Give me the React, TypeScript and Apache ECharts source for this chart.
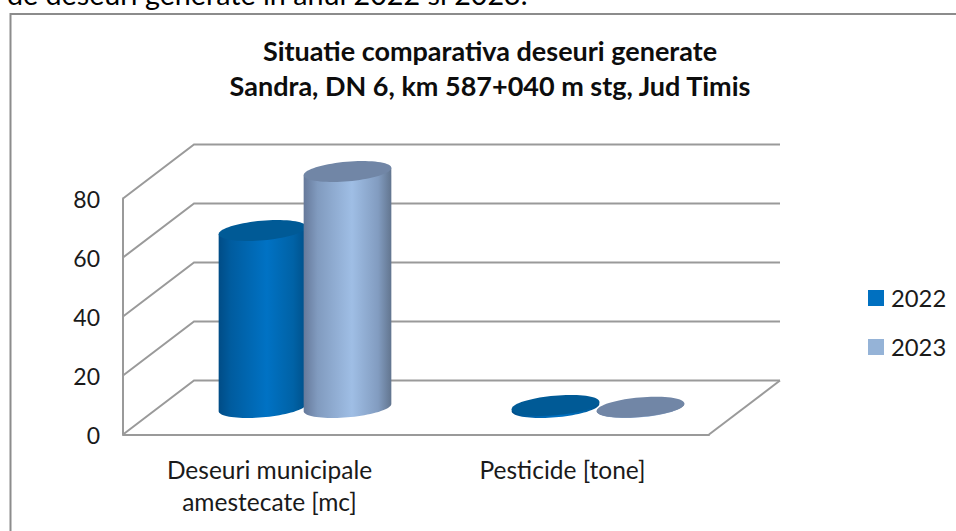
import React, { useEffect, useRef } from "react";
import * as echarts from "echarts";

const categories = ["Deseuri municipale\namestecate [mc]", "Pesticide [tone]"];
const seriesNames = ["2022", "2023"];
const values2022 = [60, 0.7];
const values2023 = [80, 0.1];
const yTicks = [0, 20, 40, 60, 80];
const titleLines = ["Situatie comparativa deseuri generate", "Sandra, DN 6, km 587+040 m stg, Jud Timis"];
const captionAbove = "de deseuri generate in anul 2022 si 2023.";

const FONT = "Lato, Carlito, sans-serif";
const DEPTH_X = 71;
const DEPTH_Y = -54;
const GRID_COLOR = "#9a9a9a";
const RX = 44;
const RY = 9.8;
const TILT = (5 * Math.PI) / 180;
const SLOT_OFFSET = 42.5;

function ellipsePoint(cx: number, cy: number, t: number): number[] {
  const c = Math.cos(t);
  const s = Math.sin(t);
  return [
    cx + RX * c * Math.cos(TILT) + RY * s * Math.sin(TILT),
    cy - RX * c * Math.sin(TILT) + RY * s * Math.cos(TILT),
  ];
}

function grad(stops: [number, string][]) {
  return new echarts.graphic.LinearGradient(
    0, 0, 1, 0,
    stops.map(([offset, color]) => ({ offset, color }))
  );
}

const palettes = [
  {
    top: "#005a96",
    stops: [[0, "#004c86"], [0.14, "#005c9f"], [0.55, "#0072c4"], [0.85, "#0062a6"], [1, "#005089"]] as [number, string][],
  },
  {
    top: "#7186a6",
    stops: [[0, "#66799a"], [0.16, "#819bbf"], [0.55, "#9fbee5"], [0.85, "#829cc0"], [1, "#62758f"]] as [number, string][],
  },
];

function cylinderRender(seriesIndex: number) {
  return (_params: any, api: any) => {
    const cat = api.value(0);
    const val = api.value(1);
    const top = api.coord([cat, val]);
    const base = api.coord([cat, 0]);
    const side = seriesIndex === 0 ? -1 : 1;
    const cx = top[0] + DEPTH_X / 2 + side * SLOT_OFFSET;
    const topY = top[1] + DEPTH_Y / 2;
    const baseY = base[1] + DEPTH_Y / 2;
    const t0 = Math.atan((RY / RX) * Math.tan(TILT));
    const body: number[][] = [];
    body.push(ellipsePoint(cx, topY, t0));
    for (let i = 0; i <= 40; i++) body.push(ellipsePoint(cx, baseY, t0 + (Math.PI * i) / 40));
    body.push(ellipsePoint(cx, topY, t0 + Math.PI));
    const cap: number[][] = [];
    for (let i = 0; i < 72; i++) cap.push(ellipsePoint(cx, topY, (2 * Math.PI * i) / 72));
    // the first series sits above the second in the short category
    const z2 = cat === 1 ? (seriesIndex === 0 ? 5 : 1) : seriesIndex === 0 ? 1 : 5;
    return {
      type: "group",
      children: [
        { type: "polygon", z2, shape: { points: body }, style: { fill: grad(palettes[seriesIndex].stops) } },
        { type: "polygon", z2: z2 + 1, shape: { points: cap }, style: { fill: palettes[seriesIndex].top } },
      ],
    };
  };
}

function wallRender(params: any, api: any) {
  const val = api.value(1);
  const cs = params.coordSys;
  const y = api.coord([0, val])[1];
  const left = cs.x;
  const right = cs.x + cs.width;
  const lineStyle = { stroke: GRID_COLOR, lineWidth: 2, fill: "none" };
  const children: any[] = [
    {
      type: "polyline",
      shape: { points: [[left, y], [left + DEPTH_X, y + DEPTH_Y], [right + DEPTH_X, y + DEPTH_Y]] },
      style: lineStyle,
    },
  ];
  if (val === 0) {
    children.push({
      type: "line",
      shape: { x1: right, y1: y, x2: right + DEPTH_X, y2: y + DEPTH_Y },
      style: lineStyle,
    });
  }
  return { type: "group", children };
}

const App: React.FC = () => {
  const ref = useRef<HTMLDivElement>(null);
  useEffect(() => {
    document.body.style.margin = "0";
    document.body.style.background = "#fff";
    const chart = echarts.init(ref.current!, null, { renderer: "svg" });
    chart.setOption({
      animation: false,
      backgroundColor: "#ffffff",
      title: {
        text: titleLines.join("\n"),
        left: 485,
        top: 28,
        textAlign: "center",
        textStyle: { fontFamily: FONT, fontSize: 27, fontWeight: "bold", color: "#0d0d0d", lineHeight: 35 },
      },
      legend: {
        orient: "vertical",
        left: 863,
        top: 279,
        itemWidth: 16,
        itemHeight: 16,
        itemGap: 21,
        icon: "rect",
        data: [
          { name: seriesNames[0], itemStyle: { color: "#0070c0" } },
          { name: seriesNames[1], itemStyle: { color: "#95b3d7" } },
        ],
        textStyle: { fontFamily: FONT, fontSize: 23.8, color: "#1a1a1a", padding: [0, 0, 0, 2], lineHeight: 28 },
      },
      grid: { left: 123, top: 198.5, width: 586, height: 236 },
      xAxis: {
        type: "category",
        data: categories,
        axisLine: { lineStyle: { color: GRID_COLOR, width: 2 } },
        axisTick: { show: false },
        splitLine: { show: false },
        axisLabel: {
          fontFamily: FONT,
          fontSize: 24.5,
          color: "#1a1a1a",
          lineHeight: 32,
          margin: 19,
          interval: 0,
        },
      },
      yAxis: {
        type: "value",
        min: 0,
        max: 80,
        interval: 20,
        axisLine: { show: true, lineStyle: { color: GRID_COLOR, width: 2 } },
        axisTick: { show: false },
        splitLine: { show: false },
        axisLabel: {
          fontFamily: FONT,
          fontSize: 23,
          color: "#1a1a1a",
          margin: 23,
          customValues: yTicks,
        },
      },
      graphic: [
        {
          type: "text",
          left: 7,
          top: -21,
          silent: true,
          style: { text: captionAbove, fontFamily: FONT, fontSize: 28.7, fill: "#000000" },
        },
        {
          type: "polyline",
          silent: true,
          shape: { points: [[10.5, 540], [10.5, 14], [960, 14]] },
          style: { stroke: "#8c8c8c", lineWidth: 2, fill: "none" },
        },
      ],
      series: [
        {
          type: "custom",
          name: "wall",
          silent: true,
          z: 1,
          clip: false,
          renderItem: wallRender,
          data: yTicks.map((t) => [0, t]),
          encode: { x: 0, y: 1 },
        },
        ...[values2022, values2023].map((vals, si) => ({
          type: "custom",
          name: seriesNames[si],
          z: 3,
          clip: false,
          itemStyle: { color: si === 0 ? "#0070c0" : "#95b3d7" },
          renderItem: cylinderRender(si),
          data: vals.map((v, i) => [i, v]),
          encode: { x: 0, y: 1 },
        })),
      ],
    });
    return () => chart.dispose();
  }, []);
  return <div ref={ref} style={{ width: 956, height: 531 }} />;
};

export default App;
